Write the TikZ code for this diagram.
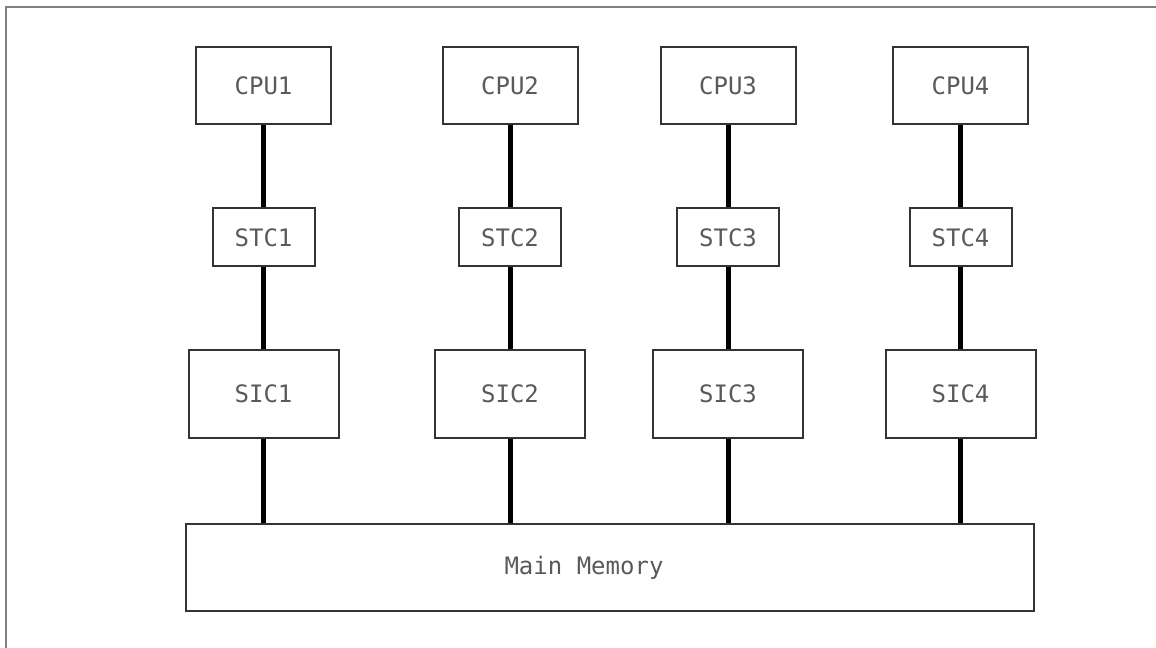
\documentclass[tikz,border=0pt]{standalone}
\usepackage{fontspec}
\setmonofont{DejaVu Sans Mono}
\usepackage{tikz}

\definecolor{boxline}{HTML}{333333}
\definecolor{labelgray}{HTML}{5A5A5A}
\definecolor{framegray}{HTML}{808080}

\begin{document}
\begin{tikzpicture}[
        x=0.75pt, y=-0.75pt,
        unit/.style={rectangle, draw=boxline, line width=1.5pt, fill=white, text=labelgray, font=\ttfamily\fontsize{18}{20}\selectfont, inner sep=0pt},
        cpu/.style={unit, minimum width=101.25pt, minimum height=57.75pt},
        stc/.style={unit, minimum width=76.5pt, minimum height=43.5pt},
        sic/.style={unit, minimum width=112.5pt, minimum height=66pt},
        memory/.style={unit, minimum width=636pt, minimum height=65.25pt},
        bus/.style={line width=3.75pt, black},
        frame/.style={framegray, line width=1.5pt}
    ]
        \useasboundingbox (0,0) rectangle (1156,648);
        \draw[frame] (6,648) -- (6,7) -- (1156,7);

        \node[cpu] (cpu1) at (263.5,85.5) {CPU1};
        \node[cpu] (cpu2) at (510,85.5) {CPU2};
        \node[cpu] (cpu3) at (728,85.5) {CPU3};
        \node[cpu] (cpu4) at (960.5,85.5) {CPU4};

        \node[stc] (stc1) at (263.5,237.5) {STC1};
        \node[stc] (stc2) at (510,237.5) {STC2};
        \node[stc] (stc3) at (728,237.5) {STC3};
        \node[stc] (stc4) at (960.5,237.5) {STC4};

        \node[sic] (sic1) at (263.5,394) {SIC1};
        \node[sic] (sic2) at (510,394) {SIC2};
        \node[sic] (sic3) at (728,394) {SIC3};
        \node[sic] (sic4) at (960.5,394) {SIC4};

        \node[memory] (mem) at (610,567.5) {Main Memory\hspace*{39pt}};

        \draw[bus] (cpu1) -- (stc1);
        \draw[bus] (cpu2) -- (stc2);
        \draw[bus] (cpu3) -- (stc3);
        \draw[bus] (cpu4) -- (stc4);

        \draw[bus] (stc1) -- (sic1);
        \draw[bus] (stc2) -- (sic2);
        \draw[bus] (stc3) -- (sic3);
        \draw[bus] (stc4) -- (sic4);

        \draw[bus] (sic1.south) -- (sic1.south |- mem.north);
        \draw[bus] (sic2.south) -- (sic2.south |- mem.north);
        \draw[bus] (sic3.south) -- (sic3.south |- mem.north);
        \draw[bus] (sic4.south) -- (sic4.south |- mem.north);
    \end{tikzpicture}
\end{document}
